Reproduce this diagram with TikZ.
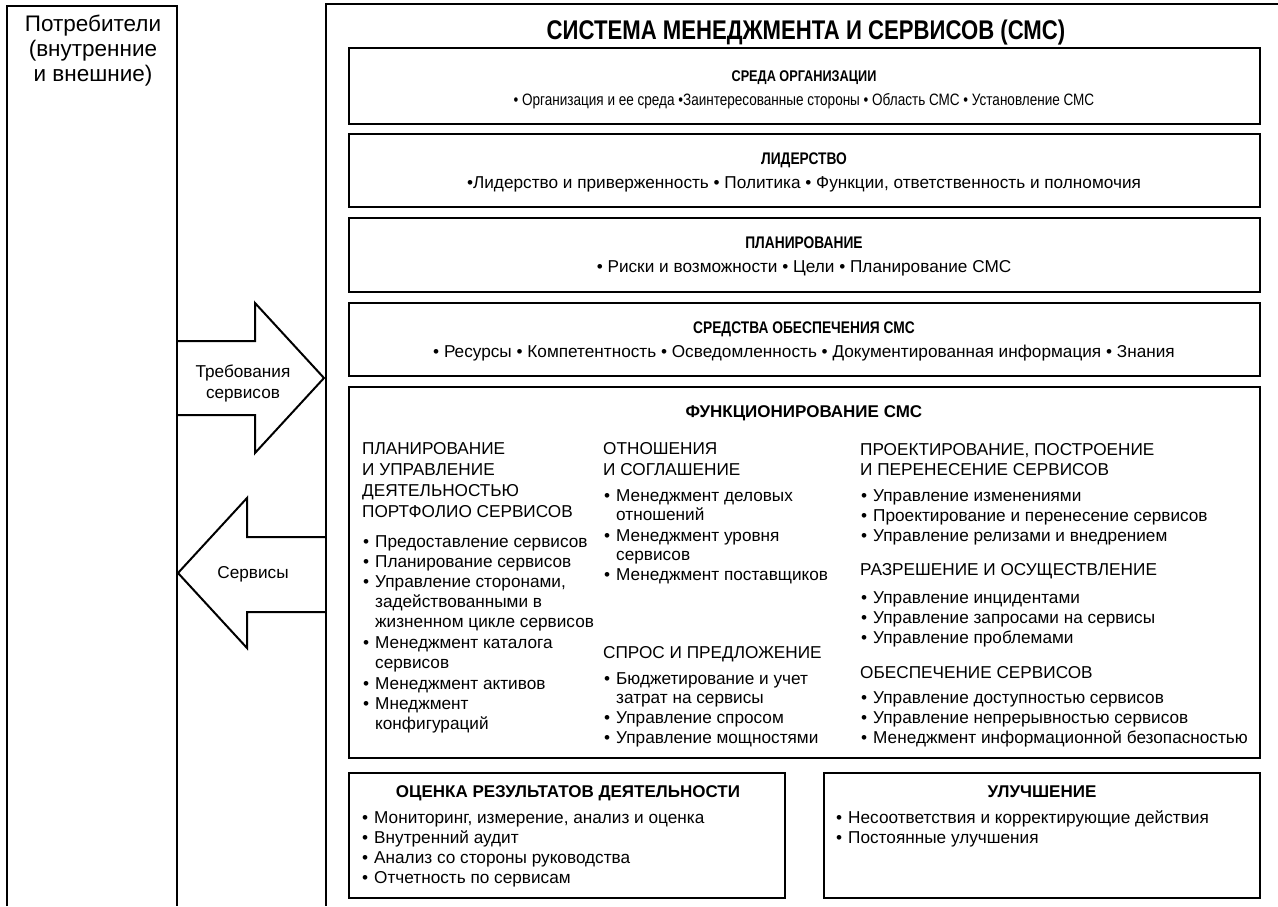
\documentclass[tikz,border=0pt]{standalone}
\usepackage{fontspec}
\setmainfont{Liberation Sans}
\newfontfamily\narrowfam[FakeStretch=0.82]{Liberation Sans}
\newcommand\fsMain{\narrowfam\bfseries\fontsize{27}{30}\selectfont}
\newcommand\fsCT{\narrowfam\bfseries\fontsize{15.5}{20}\selectfont}
\newcommand\fsCB{\narrowfam\fontsize{16.5}{18}\selectfont}
\newcommand\fsNT{\narrowfam\bfseries\fontsize{16.8}{20}\selectfont}
\newcommand\fsT{\bfseries\fontsize{17}{20}\selectfont}
\newcommand\fsB{\fontsize{17.2}{20}\selectfont}
\newcommand\fsL{\fontsize{22.5}{25}\selectfont}
\newcommand\bul{\textbullet\hspace{6pt}}
\tikzset{
  frameline/.style={line width=2pt},
  bigframe/.style={line width=2.6pt},
  box/.style={draw, line width=2.8pt, inner sep=0pt, outer sep=0pt, anchor=north west, minimum width=911pt},
  arr/.style={line width=2pt, line join=miter},
  lnw/.style={inner sep=0pt, anchor=base west},
  lnc/.style={inner sep=0pt, anchor=base},
  ttl/.style={lnc, font=\fsNT},
  bod/.style={lnc, font=\fsB},
  col/.style={lnw, font=\fsB},
}
\begin{document}
\begin{tikzpicture}[x=1pt,y=-1pt]
\useasboundingbox (0,0) rectangle (1278,906);
% outer frames
\draw[frameline] (7,906) -- (7,6) -- (177,6) -- (177,906);
\draw[bigframe] (1278,4) -- (326,4) -- (326,906);
% consumers
\node[lnc, font=\fsL] (cons1) at (93,31) {Потребители};
\node[lnc, font=\fsL] (cons2) at (93,56) {(внутренние};
\node[lnc, font=\fsL] (cons3) at (93,81) {и внешние)};
% arrows
\draw[arr] (177,341) -- (255,341) -- (255,303) -- (324,378) -- (255,453) -- (255,415) -- (177,415);
\draw[arr] (326,537) -- (247,537) -- (247,498) -- (178,573) -- (247,648) -- (247,612) -- (326,612);
\node[bod] (req1) at (243,377) {Требования};
\node[bod] (req2) at (243,398) {сервисов};
\node[bod] (serv) at (253,578) {Сервисы};
% title
\node[lnc, font=\fsMain] (title) at (806,39) {СИСТЕМА МЕНЕДЖМЕНТА И СЕРВИСОВ (СМС)};
% boxes
\node[box, minimum height=76pt] (b1) at (349,48) {};
\node[box, minimum height=73pt] (b2) at (349,134) {};
\node[box, minimum height=74pt] (b3) at (349,218) {};
\node[box, minimum height=73pt] (b4) at (349,303) {};
\node[box, minimum height=371pt] (b5) at (349,387) {};
\node[box, minimum width=436pt, minimum height=125pt] (b6) at (349,773) {};
\node[box, minimum width=436pt, minimum height=125pt] (b7) at (824,773) {};
% box 1
\node[lnc, font=\fsCT] (t1) at (804,81) {СРЕДА ОРГАНИЗАЦИИ};
\node[lnc, font=\fsCB] (x1) at (804,105) {\textbullet\ Организация и ее среда \textbullet Заинтересованные стороны \textbullet\ Область СМС \textbullet\ Установление СМС};
% box 2
\node[ttl] (t2) at (804,164) {ЛИДЕРСТВО};
\node[bod] (x2) at (804,188) {\textbullet Лидерство и приверженность \textbullet\ Политика \textbullet\ Функции, ответственность и полномочия};
% box 3
\node[ttl] (t3) at (804,248) {ПЛАНИРОВАНИЕ};
\node[bod] (x3) at (804,272) {\textbullet\ Риски и возможности \textbullet\ Цели \textbullet\ Планирование СМС};
% box 4
\node[ttl] (t4) at (804,333) {СРЕДСТВА ОБЕСПЕЧЕНИЯ СМС};
\node[bod] (x4) at (804,357) {\textbullet\ Ресурсы \textbullet\ Компетентность \textbullet\ Осведомленность \textbullet\ Документированная информация \textbullet\ Знания};
% box 5
\node[lnc, font=\fsT] (t5) at (804,417) {ФУНКЦИОНИРОВАНИЕ СМС};
% column 1
\node[col] (a1) at (362,454) {ПЛАНИРОВАНИЕ};
\node[col] (a2) at (362,475) {И УПРАВЛЕНИЕ};
\node[col] (a3) at (362,496) {ДЕЯТЕЛЬНОСТЬЮ};
\node[col] (a4) at (362,517) {ПОРТФОЛИО СЕРВИСОВ};
\node[col] (a5) at (363,547) {\bul Предоставление сервисов};
\node[col] (a6) at (363,567) {\bul Планирование сервисов};
\node[col] (a7) at (363,587) {\bul Управление сторонами,};
\node[col] (a8) at (375,607) {задействованными в};
\node[col] (a9) at (375,627) {жизненном цикле сервисов};
\node[col] (a10) at (363,648) {\bul Менеджмент каталога};
\node[col] (a11) at (375,668) {сервисов};
\node[col] (a12) at (363,689) {\bul Менеджмент активов};
\node[col] (a13) at (363,709) {\bul Мнеджмент};
\node[col] (a14) at (375,729) {конфигураций};
% column 2
\node[col] (m1) at (603,454) {ОТНОШЕНИЯ};
\node[col] (m2) at (603,475) {И СОГЛАШЕНИЕ};
\node[col] (m3) at (604,501) {\bul Менеджмент деловых};
\node[col] (m4) at (616,520) {отношений};
\node[col] (m5) at (604,541) {\bul Менеджмент уровня};
\node[col] (m6) at (616,560) {сервисов};
\node[col] (m7) at (604,580) {\bul Менеджмент поставщиков};
\node[col] (m8) at (603,658) {СПРОС И ПРЕДЛОЖЕНИЕ};
\node[col] (m9) at (604,684) {\bul Бюджетирование и учет};
\node[col] (m10) at (616,703) {затрат на сервисы};
\node[col] (m11) at (604,723) {\bul Управление спросом};
\node[col] (m12) at (604,743) {\bul Управление мощностями};
% column 3
\node[col] (r1) at (860,455) {ПРОЕКТИРОВАНИЕ, ПОСТРОЕНИЕ};
\node[col] (r2) at (860,475) {И ПЕРЕНЕСЕНИЕ СЕРВИСОВ};
\node[col] (r3) at (861,501) {\bul Управление изменениями};
\node[col] (r4) at (861,521) {\bul Проектирование и перенесение сервисов};
\node[col] (r5) at (861,541) {\bul Управление релизами и внедрением};
\node[col] (r6) at (860,575) {РАЗРЕШЕНИЕ И ОСУЩЕСТВЛЕНИЕ};
\node[col] (r7) at (861,603) {\bul Управление инцидентами};
\node[col] (r8) at (861,623) {\bul Управление запросами на сервисы};
\node[col] (r9) at (861,643) {\bul Управление проблемами};
\node[col] (r10) at (860,678) {ОБЕСПЕЧЕНИЕ СЕРВИСОВ};
\node[col] (r11) at (861,703) {\bul Управление доступностью сервисов};
\node[col] (r12) at (861,723) {\bul Управление непрерывностью сервисов};
\node[col] (r13) at (861,743) {\bul Менеджмент информационной безопасностью};
% box 6
\node[lnc, font=\fsT] (t6) at (568,797) {ОЦЕНКА РЕЗУЛЬТАТОВ ДЕЯТЕЛЬНОСТИ};
\node[col] (e1) at (362,823) {\bul Мониторинг, измерение, анализ и оценка};
\node[col] (e2) at (362,843) {\bul Внутренний аудит};
\node[col] (e3) at (362,863) {\bul Анализ со стороны руководства};
\node[col] (e4) at (362,883) {\bul Отчетность по сервисам};
% box 7
\node[lnc, font=\fsT] (t7) at (1042,797) {УЛУЧШЕНИЕ};
\node[col] (u1) at (836,823) {\bul Несоответствия и корректирующие действия};
\node[col] (u2) at (836,843) {\bul Постоянные улучшения};
\end{tikzpicture}
\end{document}
